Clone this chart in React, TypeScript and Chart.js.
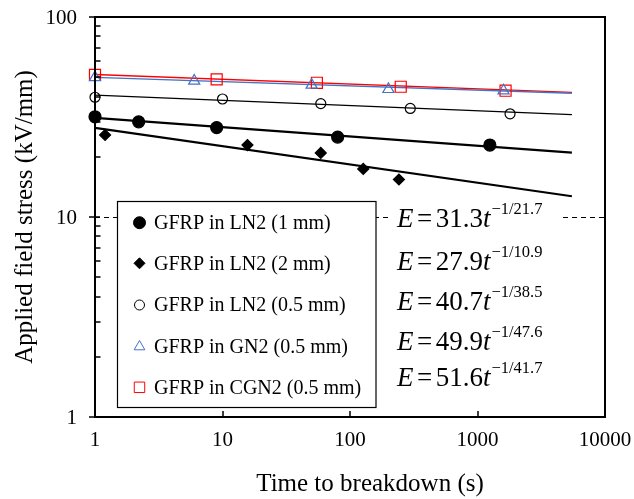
import React, { useEffect, useRef } from "react";
import { Chart, registerables } from "chart.js";

Chart.register(...registerables);

const SERIF = "'Liberation Serif', 'Times New Roman', Times, serif";

// ---------- data ----------
const xTickValues = [1, 10, 100, 1000, 10000];
const yTickValues = [1, 10, 100];
const yMinorTickValues = [2, 3, 4, 5, 6, 7, 8, 9, 20, 30, 40, 50, 60, 70, 80, 90];
const thresholdStress = 10;

const ln2_1mm_t = [1, 2.2, 9, 80, 1250];
const ln2_1mm_E = [31.7, 29.9, 28.0, 25.1, 22.9];
const ln2_2mm_t = [1.2, 15.7, 59, 127, 242];
const ln2_2mm_E = [25.7, 22.9, 20.9, 17.4, 15.4];
const ln2_05_t = [1, 10, 59, 297, 1800];
const ln2_05_E = [39.7, 38.9, 36.9, 34.9, 32.8];
const gn2_t = [1, 6, 50, 200, 1600];
const gn2_E = [49.9, 47.9, 45.7, 43.5, 42.8];
const cgn2_t = [1, 9, 55, 250, 1660];
const cgn2_E = [51.3, 48.8, 46.9, 44.8, 42.8];

const fitTimes = [1, 5500];
const fit_1mm = [31.3, 21.0];
const fit_2mm = [27.9, 12.7];
const fit_05 = [40.7, 32.5];
const fit_gn2 = [49.9, 41.6];
const fit_cgn2 = [51.6, 42.0];

const legendLabels = [
  "GFRP in LN2 (1 mm)",
  "GFRP in LN2 (2 mm)",
  "GFRP in LN2 (0.5 mm)",
  "GFRP in GN2 (0.5 mm)",
  "GFRP in CGN2 (0.5 mm)",
];
const eqCoefficients = ["31.3", "27.9", "40.7", "49.9", "51.6"];
const eqExponents = ["21.7", "10.9", "38.5", "47.6", "41.7"];

const xTitle = "Time to breakdown (s)";
const yTitle = "Applied field stress (kV/mm)";

// ---------- styles / layout ----------
const BLUE = "#4472C4";
const RED = "#FF0000";
const markerStyles = [
  { shape: "circle", fill: "#000", stroke: "#000", r: 6, lr: 6 },
  { shape: "diamond", fill: "#000", stroke: "#000", r: 5.5, lr: 5.5 },
  { shape: "circle", fill: null, stroke: "#000", r: 5, lr: 5 },
  { shape: "triangle", fill: null, stroke: BLUE, r: 6.4, lr: 6.2 },
  { shape: "square", fill: null, stroke: RED, r: 7.8, lr: 7.4 },
];
const legendRowsY = [222.7, 263.3, 305, 346.7, 387.3];
const eqBaselines = [226.5, 269.5, 310, 349.5, 386];

const zip = (xs: number[], ys: number[]) => xs.map((x, i) => ({ x, y: ys[i] }));

function drawMarker(ctx: CanvasRenderingContext2D, shape: string, x: number, y: number, r: number, fill: string | null, stroke: string) {
  ctx.save();
  ctx.beginPath();
  if (shape === "circle") {
    ctx.arc(x, y, r, 0, Math.PI * 2);
  } else if (shape === "diamond") {
    ctx.moveTo(x, y - r);
    ctx.lineTo(x + r, y);
    ctx.lineTo(x, y + r);
    ctx.lineTo(x - r, y);
    ctx.closePath();
  } else if (shape === "triangle") {
    const s = (r * Math.sqrt(3)) / 2;
    ctx.moveTo(x, y - r);
    ctx.lineTo(x + s, y + r / 2);
    ctx.lineTo(x - s, y + r / 2);
    ctx.closePath();
  } else if (shape === "square") {
    const h = r * Math.SQRT1_2;
    ctx.rect(x - h, y - h, 2 * h, 2 * h);
  }
  if (fill) {
    ctx.fillStyle = fill;
    ctx.fill();
  }
  ctx.strokeStyle = stroke;
  ctx.lineWidth = 1;
  ctx.stroke();
  ctx.restore();
}

const overlayPlugin = {
  id: "overlay",
  beforeDatasetsDraw(chart: any) {
    const { ctx, chartArea: a, scales } = chart;
    const yy = Math.round(scales.y.getPixelForValue(thresholdStress)) + 0.5;
    ctx.save();
    ctx.strokeStyle = "#000";
    ctx.lineWidth = 1;
    ctx.setLineDash([5, 4]);
    ctx.beginPath();
    ctx.moveTo(a.left, yy);
    ctx.lineTo(a.right, yy);
    ctx.stroke();
    ctx.restore();
  },
  afterDatasetsDraw(chart: any) {
    const { ctx, chartArea: a, scales } = chart;
    const xs = scales.x;
    const ys = scales.y;
    ctx.save();

    // equation white background
    ctx.fillStyle = "#fff";
    ctx.fillRect(391, 205, 168, 190);

    // equations
    ctx.fillStyle = "#000";
    ctx.textBaseline = "alphabetic";
    ctx.textAlign = "left";
    eqCoefficients.forEach((c, i) => {
      let x = 397;
      const b = eqBaselines[i];
      ctx.font = `italic 27px ${SERIF}`;
      ctx.fillText("E", x, b);
      x += ctx.measureText("E").width + 3.5;
      ctx.font = `27px ${SERIF}`;
      ctx.fillText("=", x, b);
      x += ctx.measureText("=").width + 3.5;
      ctx.fillText(c, x, b);
      x += ctx.measureText(c).width;
      ctx.font = `italic 27px ${SERIF}`;
      ctx.fillText("t", x, b);
      x += ctx.measureText("t").width + 1;
      ctx.font = `16.5px ${SERIF}`;
      ctx.fillText("\u22121/" + eqExponents[i], x, b - 13);
    });

    // legend box
    ctx.fillStyle = "#fff";
    ctx.fillRect(117.5, 201.5, 258.5, 206);
    ctx.strokeStyle = "#000";
    ctx.lineWidth = 1.2;
    ctx.strokeRect(117.5, 201.5, 258.5, 206);
    legendLabels.forEach((lab, i) => {
      const m = markerStyles[i];
      const yy = legendRowsY[i];
      drawMarker(ctx, m.shape, 139.5, yy, m.lr, m.fill, m.stroke);
      ctx.fillStyle = "#000";
      ctx.font = `20px ${SERIF}`;
      ctx.textBaseline = "middle";
      ctx.fillText(lab, 154, yy + 1);
    });

    // frame
    ctx.strokeStyle = "#000";
    ctx.lineWidth = 2;
    ctx.strokeRect(a.left, a.top, a.right - a.left, a.bottom - a.top);

    // ticks
    ctx.lineWidth = 1.5;
    ctx.beginPath();
    yTickValues.forEach((v) => {
      const p = Math.round(ys.getPixelForValue(v));
      ctx.moveTo(a.left - 6, p);
      ctx.lineTo(a.left + 5, p);
    });
    yMinorTickValues.forEach((v) => {
      const p = Math.round(ys.getPixelForValue(v));
      ctx.moveTo(a.left, p);
      ctx.lineTo(a.left + 5.5, p);
    });
    xTickValues.forEach((v) => {
      const p = Math.round(xs.getPixelForValue(v));
      ctx.moveTo(p, a.bottom);
      ctx.lineTo(p, a.bottom - 6);
    });
    ctx.stroke();

    // tick labels
    ctx.fillStyle = "#000";
    ctx.font = `21px ${SERIF}`;
    ctx.textBaseline = "middle";
    ctx.textAlign = "right";
    yTickValues.forEach((v) => {
      ctx.fillText(String(v), a.left - 18, ys.getPixelForValue(v) + 1);
    });
    ctx.textAlign = "center";
    ctx.textBaseline = "alphabetic";
    xTickValues.forEach((v) => {
      ctx.fillText(String(v), xs.getPixelForValue(v), a.bottom + 29);
    });

    // axis titles
    ctx.font = `25px ${SERIF}`;
    ctx.textAlign = "center";
    ctx.textBaseline = "alphabetic";
    ctx.fillText(xTitle, 370, 491);
    ctx.save();
    ctx.translate(32, 217);
    ctx.rotate(-Math.PI / 2);
    ctx.fillText(yTitle, 0, 0);
    ctx.restore();

    ctx.restore();
  },
};

export default function App() {
  const ref = useRef<HTMLCanvasElement>(null);
  useEffect(() => {
    const fitLine = (ys: number[], color: string, w: number) => ({
      data: zip(fitTimes, ys),
      showLine: true,
      borderColor: color,
      backgroundColor: color,
      borderWidth: w,
      pointRadius: 0,
      clip: false,
      order: 10,
    });
    const pts = (xs: number[], ys: number[], i: number, style: string) => {
      const m = markerStyles[i];
      return {
        label: legendLabels[i],
        data: zip(xs, ys),
        showLine: false,
        pointStyle: style,
        pointRadius: m.r,
        pointHoverRadius: m.r,
        pointBackgroundColor: m.fill || "rgba(0,0,0,0)",
        pointBorderColor: m.stroke,
        pointBorderWidth: 1.2,
        clip: false,
        order: 1,
      };
    };
    const chart = new Chart(ref.current!, {
      type: "scatter",
      data: {
        datasets: [
          fitLine(fit_1mm, "#000", 2.2),
          fitLine(fit_2mm, "#000", 2.2),
          fitLine(fit_05, "#000", 1.2),
          fitLine(fit_gn2, BLUE, 1.4),
          fitLine(fit_cgn2, RED, 1.4),
          pts(ln2_1mm_t, ln2_1mm_E, 0, "circle"),
          pts(ln2_2mm_t, ln2_2mm_E, 1, "rectRot"),
          pts(ln2_05_t, ln2_05_E, 2, "circle"),
          pts(gn2_t, gn2_E, 3, "triangle"),
          pts(cgn2_t, cgn2_E, 4, "rect"),
        ] as any,
      },
      options: {
        responsive: false,
        animation: false,
        events: [],
        layout: { padding: { left: 0, top: 17, right: 29, bottom: 0 } },
        plugins: { legend: { display: false }, tooltip: { enabled: false }, title: { display: false } },
        scales: {
          x: {
            type: "logarithmic",
            min: 1,
            max: 10000,
            afterBuildTicks: (s: any) => {
              s.ticks = xTickValues.map((v) => ({ value: v }));
            },
            afterFit: (s: any) => {
              s.height = 82;
            },
            ticks: { display: false },
            grid: { display: false, drawTicks: false },
            border: { display: false },
          },
          y: {
            type: "logarithmic",
            min: 1,
            max: 100,
            afterBuildTicks: (s: any) => {
              s.ticks = yTickValues.map((v) => ({ value: v }));
            },
            afterFit: (s: any) => {
              s.width = 95;
            },
            ticks: { display: false },
            grid: { display: false, drawTicks: false },
            border: { display: false },
          },
        },
      } as any,
      plugins: [overlayPlugin],
    });
    return () => chart.destroy();
  }, []);
  return (
    <div style={{ position: "absolute", left: 0, top: 0, width: 634, height: 499 }}>
      <canvas ref={ref} width={634} height={499} style={{ display: "block", width: 634, height: 499 }} />
    </div>
  );
}
